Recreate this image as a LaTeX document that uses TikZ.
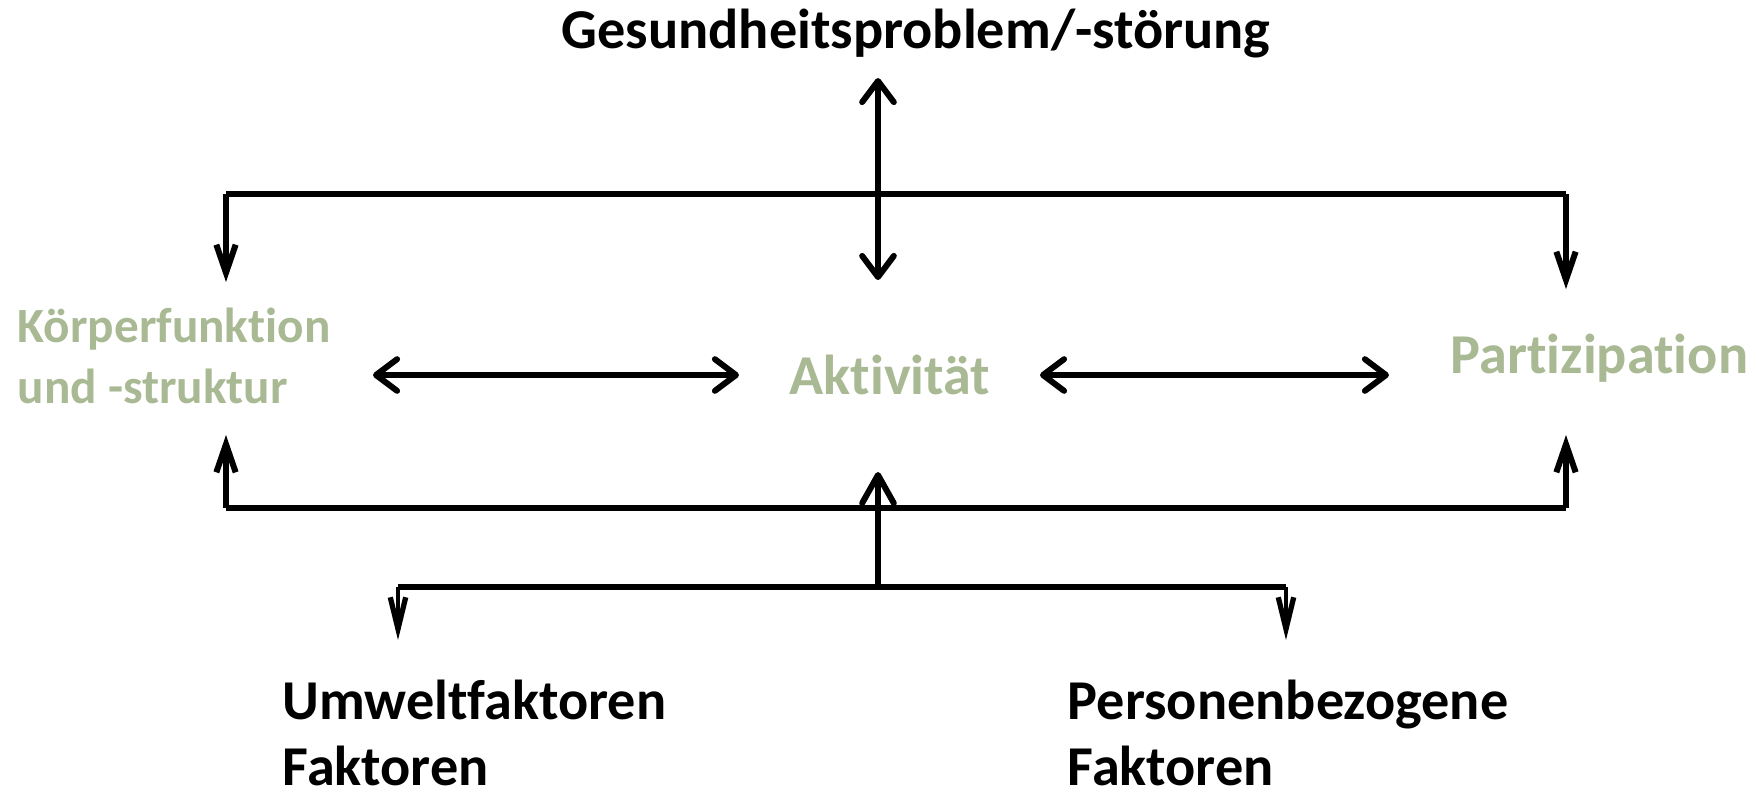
\documentclass[tikz,border=0pt]{standalone}
\usepackage{fontspec}
\setmainfont{Carlito}[Ligatures={NoCommon,NoContextual},Contextuals=NoAlternate]
\usepackage{tikz}
\usetikzlibrary{arrows.meta,positioning}
\definecolor{IcfGreen}{RGB}{168,185,147}
\newcommand{\nolig}{\kern0pt }

\tikzset{
	conn/.style={line width=1.7pt},
	wide/.style={line width=1.7pt, {Straight Barb[length=6pt,width=9pt,round]}-{Straight Barb[length=6pt,width=9pt,round]}},
	slim/.style={line width=1.7pt, -{Straight Barb[length=8pt,width=5.5pt]}},
	thin/.style={line width=1.1pt, -{Straight Barb[length=9pt,width=4.4pt,line width=1.5pt]}},
	part/.style={text=IcfGreen, font=\bfseries\fontsize{16}{17}\selectfont, inner sep=0pt},
	fact/.style={font=\bfseries\fontsize{16}{19}\selectfont, align=left, inner sep=0pt}
}

\begin{document}
\begin{tikzpicture}[x=0.01cm, y=-0.01cm]
			\useasboundingbox (0,0) rectangle (1756,793);
			\node[font=\bfseries\fontsize{16}{19}\selectfont, inner sep=0pt] (health) at (916,34) {Gesundheitsproblem/-störung};
			\node[part, font=\bfseries\fontsize{14}{17.5}\selectfont, align=left, anchor=west] (body) at (17,356) {Körperfunkt\nolig ion\\und -struktur};
			\node[part] (activity) at (890,375) {Akt\nolig ivität};
			\node[part, anchor=west] (particip) at (1450,358) {Part\nolig izipat\nolig ion};
			\node[fact, anchor=west] (env) at (282,733) {Umweltfaktoren\\Faktoren};
			\node[fact, anchor=west] (person) at (1067,733) {Personenbezogene\\Faktoren};
			\coordinate (healthIn) at (878,78);
			\coordinate (activityIn) at (878,280);
			\coordinate (bodyOut) at (373,375);
			\coordinate (activityL) at (739,375);
			\coordinate (activityR) at (1040,375);
			\coordinate (participIn) at (1389,375);
			\coordinate (topL) at (226,194);
			\coordinate (topR) at (1566,194);
			\coordinate (botL) at (226,508);
			\coordinate (botR) at (1566,508);
			\coordinate (ctxM) at (878,587);
			\coordinate (ctxL) at (398,587);
			\coordinate (ctxR) at (1286,587);
			\draw[conn] (topL) -- (topR);
			\draw[conn] (botL) -- (botR);
			\draw[conn] (ctxL) -- (ctxR);
			\draw[wide] (healthIn) -- (activityIn);
			\draw[wide] (bodyOut) -- (activityL);
			\draw[wide] (activityR) -- (participIn);
			\draw[slim] (topL) -- ++(0,88);
			\draw[slim] (topR) -- ++(0,95);
			\draw[slim] (botL) -- ++(0,-73);
			\draw[slim] (botR) -- ++(0,-73);
			\draw[line width=1.7pt, -{Straight Barb[length=8pt,width=9pt,round]}] (ctxM) -- ++(0,-115);
			\draw[thin] (ctxL) -- ++(0,53);
			\draw[thin] (ctxR) -- ++(0,53);
		\end{tikzpicture}
\end{document}
